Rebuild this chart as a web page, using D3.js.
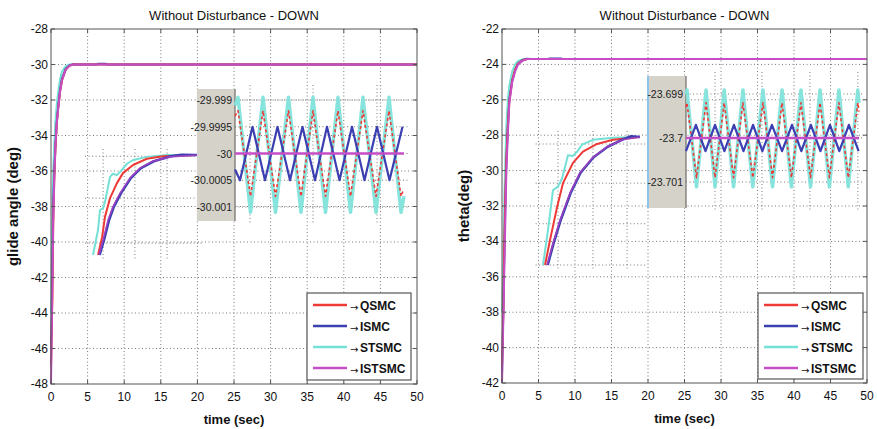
<!DOCTYPE html>
<html><head><meta charset="utf-8">
<script src="https://cdn.jsdelivr.net/npm/d3@7"></script>
<style>
body{margin:0;background:#fff;}
svg{display:block;font-family:"Liberation Sans",Arial,sans-serif;}
</style>
</head><body>
<svg id="c" width="877" height="429"></svg>
<script>
// ---------- shared ----------
const seriesNames = ["QSMC", "ISMC", "STSMC", "ISTSMC"];
const seriesColors = ["#ee3a36", "#3b42b0", "#74e0d6", "#c54ec6"];
const chartTitle = "Without Disturbance - DOWN";
const xLabel = "time (sec)";
const xTicks = [0, 5, 10, 15, 20, 25, 30, 35, 40, 45, 50];

// ---------- left panel: glide angle ----------
const leftYLabel = "glide angle (deg)";
const leftYTicks = [-48, -46, -44, -42, -40, -38, -36, -34, -32, -30, -28];
const leftTime   = [0, 0.1, 0.2, 0.3, 0.45, 0.6, 0.8, 1.0, 1.25, 1.5, 2.0, 2.5, 3.0, 3.5, 6.2, 6.4, 7.5, 7.7, 50];
const leftQSMC   = [-47, -45, -43, -39, -36.5, -34.8, -33.3, -32.4, -31.5, -30.9, -30.3, -30.08, -30.0, -30, -30, -30, -30, -30, -30];
const leftISMC   = [-46, -44, -41, -38, -36, -34.6, -33.2, -32.3, -31.4, -30.8, -30.25, -30.05, -29.98, -30, -30, -29.96, -29.96, -30, -30];
const leftSTSMC  = [-44, -41, -38, -36, -34.5, -33.2, -32.2, -31.5, -30.8, -30.4, -30.1, -30.0, -30, -30, -30, -30, -30, -30, -30];
const leftISTSMC = [-48, -45, -42, -39, -36.3, -34.6, -33.2, -32.4, -31.5, -30.9, -30.3, -30.08, -30.0, -30, -30, -30, -30, -30, -30];

// left transient zoom inset (time, value)
const leftZoomSTSMC  = [[0,-46],[0.16,-42],[0.22,-38.8],[0.32,-38.5],[0.38,-37.5],[0.54,-33.5],[0.63,-33.0],[0.76,-33.2],[0.86,-32.7],[1.08,-31.4],[1.27,-30.8],[1.71,-30.3],[2.35,-30.0],[3.3,-30.0]];
const leftZoomQSMC   = [[0.16,-46],[0.29,-43.1],[0.38,-39.9],[0.54,-36.9],[0.76,-34.5],[0.95,-32.9],[1.27,-31.6],[1.71,-30.6],[2.22,-30.2],[3.3,-30]];
const leftZoomISMC   = [[0.21,-46],[0.35,-43.6],[0.51,-40.4],[0.66,-38.3],[0.89,-36.1],[1.2,-33.7],[1.52,-32.1],[1.93,-31.0],[2.47,-30.2],[2.8,-29.95],[3.3,-30]];
const leftZoomISTSMC = [[0.19,-46],[0.32,-43.6],[0.48,-40.4],[0.63,-38.3],[0.86,-36.1],[1.17,-33.7],[1.49,-32.1],[1.9,-31.0],[2.44,-30.3],[3.3,-30]];
const leftZoomGridX = [0.32, 1.33, 2.35];
const leftZoomGridY = [-30.2, -36.9, -44.1];

// left oscillation inset (phase, value)
const leftOscTicks = [-30.001, -30.0005, -30, -29.9995, -29.999];
const leftOscTickLabels = ["-30.001", "-30.0005", "-30", "-29.9995", "-29.999"];
const leftOscSTSMC = [[0,-29.9991],[0.12,-29.99895],[0.62,-30.0011],[1.12,-29.99895],[1.62,-30.0011],[2.14,-29.99895],[2.64,-30.0011],[3.12,-29.99895],[3.62,-30.0011],[4.12,-29.99895],[4.62,-30.0011],[5.12,-29.99895],[5.64,-30.0011],[6.16,-29.99895],[6.64,-30.0011],[6.76,-30.0008]];
const leftOscQSMC  = [[0,-29.9993],[0.12,-29.9992],[0.62,-30.0008],[1.12,-29.9992],[1.62,-30.0008],[2.14,-29.9992],[2.64,-30.0008],[3.12,-29.9992],[3.62,-30.0008],[4.12,-29.9992],[4.62,-30.0008],[5.12,-29.9992],[5.64,-30.0008],[6.16,-29.9992],[6.64,-30.0008],[6.72,-30.0007]];
const leftOscISMC  = [[0,-30.0003],[0.2,-30.0005],[0.7,-29.9995],[1.2,-30.0005],[1.7,-29.9995],[2.2,-30.0005],[2.7,-29.9995],[3.2,-30.0005],[3.68,-29.9995],[4.18,-30.0005],[4.68,-29.9995],[5.18,-30.0005],[5.68,-29.9995],[6.18,-30.0005],[6.7,-29.9995]];
const leftOscISTSMC = [[0,-30],[6.76,-30]];
const leftOscGridX = [0.6, 3.12, 5.68];

// ---------- right panel: theta ----------
const rightYLabel = "theta(deg)";
const rightYTicks = [-42, -40, -38, -36, -34, -32, -30, -28, -26, -24, -22];
const rightTime   = [0, 0.1, 0.2, 0.3, 0.45, 0.6, 0.8, 1.0, 1.4, 1.8, 2.2, 2.8, 3.4, 4.0, 6.3, 6.5, 8.1, 8.3, 50];
const rightQSMC   = [-41, -39.5, -37.5, -34.5, -31.5, -29.3, -27.5, -26.1, -24.9, -24.3, -23.95, -23.78, -23.7, -23.7, -23.7, -23.7, -23.7, -23.7, -23.7];
const rightISMC   = [-41.5, -39.5, -37.5, -35, -32, -29.5, -27.5, -26.0, -24.9, -24.3, -23.95, -23.75, -23.68, -23.7, -23.7, -23.66, -23.66, -23.7, -23.7];
const rightSTSMC  = [-38, -36.5, -35, -32, -29.5, -27.5, -26, -25.2, -24.4, -24.0, -23.8, -23.72, -23.7, -23.7, -23.7, -23.7, -23.7, -23.7, -23.7];
const rightISTSMC = [-42, -40, -38, -36, -33, -30, -28, -26.2, -25, -24.4, -24.0, -23.8, -23.7, -23.7, -23.7, -23.7, -23.7, -23.7, -23.7];

const rightZoomSTSMC  = [[0,-42],[0.17,-37.0],[0.34,-31.3],[0.51,-30.8],[0.65,-29.6],[0.85,-26.3],[1.02,-26.4],[1.16,-25.8],[1.33,-24.8],[1.7,-24.1],[2.38,-23.8],[3.3,-23.7]];
const rightZoomQSMC   = [[0.07,-42],[0.24,-38.4],[0.48,-33.7],[0.68,-30.3],[1.02,-27.4],[1.36,-25.8],[1.84,-24.7],[2.38,-24.1],[3.3,-23.7]];
const rightZoomISMC   = [[0.16,-42],[0.36,-38.9],[0.6,-35.6],[0.94,-31.7],[1.28,-28.8],[1.72,-26.6],[2.2,-25.1],[2.74,-24.0],[3.0,-23.6],[3.3,-23.7]];
const rightZoomISTSMC = [[0.14,-42],[0.34,-38.9],[0.58,-35.6],[0.92,-31.7],[1.26,-28.8],[1.7,-26.6],[2.18,-25.1],[2.72,-24.1],[3.3,-23.7]];
const rightZoomGridX = [0.51, 1.7, 2.86];
const rightZoomGridY = [-24.7, -30.3, -36.1, -42.0];

const rightOscTicks = [-23.701, -23.7, -23.699];
const rightOscTickLabels = ["-23.701", "-23.7", "-23.699"];
const rightOscSTSMC = [[0,-23.6990],[0.05,-23.69891],[0.55,-23.70111],[1.05,-23.69891],[1.52,-23.70111],[2.0,-23.69891],[2.49,-23.70111],[2.98,-23.69891],[3.5,-23.70111],[4.03,-23.69891],[4.53,-23.70111],[5.03,-23.69891],[5.52,-23.70111],[6.02,-23.69891],[6.52,-23.70111],[7.02,-23.69891],[7.51,-23.70111],[8.01,-23.69891],[8.5,-23.70111],[9.0,-23.69891],[9.06,-23.6992]];
const rightOscQSMC  = [[0,-23.6993],[0.05,-23.6992],[0.55,-23.7009],[1.05,-23.6992],[1.52,-23.7009],[2.0,-23.6992],[2.49,-23.7009],[2.98,-23.6992],[3.5,-23.7009],[4.03,-23.6992],[4.53,-23.7009],[5.03,-23.6992],[5.52,-23.7009],[6.02,-23.6992],[6.52,-23.7009],[7.02,-23.6992],[7.51,-23.7009],[8.01,-23.6992],[8.5,-23.7009],[9.0,-23.6992],[9.06,-23.6994]];
const rightOscISMC  = [[0,-23.7003],[0.52,-23.6997],[1.02,-23.7003],[1.52,-23.6997],[2.01,-23.7003],[2.51,-23.6997],[3.01,-23.7003],[3.51,-23.6997],[4.0,-23.7003],[4.5,-23.6997],[5.03,-23.7003],[5.55,-23.6997],[6.04,-23.7003],[6.54,-23.6997],[7.04,-23.7003],[7.54,-23.6997],[8.03,-23.7003],[8.53,-23.6997],[9.04,-23.7003]];
const rightOscISTSMC = [[0,-23.7],[9.06,-23.7]];
const rightOscGridX = [1.52, 3.98, 6.49, 9.0];

// ---------- drawing ----------
const svg = d3.select("#c");
const GRID = "#7a7a7a";

function poly(g, pts, xs, ys, color, width, dash, opacity) {
  g.append("path").datum(pts)
    .attr("d", d3.line().x(d => xs(d[0])).y(d => ys(d[1])))
    .attr("fill", "none").attr("stroke", color).attr("stroke-width", width)
    .attr("stroke-linejoin", "round")
    .attr("stroke-dasharray", dash || null)
    .attr("opacity", opacity == null ? 1 : opacity);
}

function panel(cfg) {
  const g = svg.append("g");
  const x = d3.scaleLinear().domain([0, 50]).range([cfg.px0, cfg.px1]);
  const y = d3.scaleLinear().domain([cfg.yTicks[0], cfg.yTicks[cfg.yTicks.length - 1]]).range([cfg.py1, cfg.py0]);

  g.append("rect").attr("x", cfg.px0).attr("y", cfg.py0)
    .attr("width", cfg.px1 - cfg.px0).attr("height", cfg.py1 - cfg.py0).attr("fill", "#fff");

  // grid
  const gg = g.append("g").attr("stroke", GRID).attr("stroke-width", 1).attr("stroke-dasharray", "1,2.5");
  xTicks.slice(1, -1).forEach(t => gg.append("line").attr("x1", x(t)).attr("x2", x(t)).attr("y1", cfg.py0).attr("y2", cfg.py1));
  cfg.yTicks.slice(1, -1).forEach(t => gg.append("line").attr("x1", cfg.px0).attr("x2", cfg.px1).attr("y1", y(t)).attr("y2", y(t)));

  // main curves
  const order = [2, 1, 0, 3];
  order.forEach(i => {
    const pts = cfg.time.map((t, k) => [t, cfg.series[i][k]]);
    poly(g, pts, x, y, seriesColors[i], 2, null, 1);
  });

  // transient zoom inset
  const zx = d3.scaleLinear().domain([0, 3.3]).range(cfg.zoomX);
  const zy = d3.scaleLinear().domain(cfg.zoomYDom).range(cfg.zoomY);
  const zg = g.append("g").attr("stroke", GRID).attr("stroke-width", 1).attr("stroke-dasharray", "1,2.5");
  cfg.zoomGridY.forEach(v => zg.append("line").attr("x1", zx(-0.25)).attr("x2", zx(3.5)).attr("y1", zy(v)).attr("y2", zy(v)));
  cfg.zoomGridX.forEach(v => zg.append("line").attr("x1", zx(v)).attr("x2", zx(v)).attr("y1", cfg.zoomY[1] - 6).attr("y2", cfg.zoomY[0] + 4));
  poly(g, cfg.zoom[2], zx, zy, seriesColors[2], 2, null, 1);
  poly(g, cfg.zoom[0], zx, zy, seriesColors[0], 2, null, 1);
  poly(g, cfg.zoom[1], zx, zy, seriesColors[1], 2.6, null, 1);
  poly(g, cfg.zoom[3], zx, zy, "#a23fc4", 1.6, null, 0.9);

  // oscillation inset
  const ox = d3.scaleLinear().domain([0, cfg.oscXMax]).range(cfg.oscX);
  const oy = d3.scaleLinear().domain([cfg.oscTicks[0], cfg.oscTicks[cfg.oscTicks.length - 1]]).range(cfg.oscYRange);
  const og = g.append("g").attr("stroke", GRID).attr("stroke-width", 1).attr("stroke-dasharray", "1,2.5");
  cfg.oscTicks.forEach(v => og.append("line").attr("x1", cfg.oscX[0]).attr("x2", cfg.oscX[1] + 4).attr("y1", oy(v)).attr("y2", oy(v)));
  cfg.oscGridX.forEach(v => og.append("line").attr("x1", ox(v)).attr("x2", ox(v)).attr("y1", cfg.panelY[0] - 4).attr("y2", cfg.panelY[1] + 2));

  // gray label panel
  g.append("rect").attr("x", cfg.panelX[0]).attr("y", cfg.panelY[0])
    .attr("width", cfg.panelX[1] - cfg.panelX[0]).attr("height", cfg.panelY[1] - cfg.panelY[0])
    .attr("fill", "#d5d2ca");
  g.append("line").attr("x1", cfg.panelX[1]).attr("x2", cfg.panelX[1]).attr("y1", cfg.panelY[0]).attr("y2", cfg.panelY[1])
    .attr("stroke", "#6e6c68").attr("stroke-width", 1.2);
  if (cfg.blueEdge) {
    g.append("line").attr("x1", cfg.panelX[0]).attr("x2", cfg.panelX[0]).attr("y1", cfg.panelY[0]).attr("y2", cfg.panelY[1])
      .attr("stroke", "#8ec4ea").attr("stroke-width", 2);
  }
  cfg.oscTicks.forEach((v, i) => {
    g.append("text").attr("x", cfg.panelX[1] - 3).attr("y", oy(v) + 4)
      .attr("text-anchor", "end").attr("font-size", 10.5).attr("fill", "#222")
      .attr("font-family", "'Liberation Sans Narrow','Liberation Sans',Arial,sans-serif")
      .text(cfg.oscTickLabels[i]);
  });

  poly(g, cfg.osc[2], ox, oy, "#7fe3da", 3.5, null, 0.95);
  poly(g, cfg.osc[0], ox, oy, seriesColors[0], 1.6, "3,2.5", 1);
  poly(g, cfg.osc[1], ox, oy, "#3b3fb2", 2.2, null, 1);
  poly(g, cfg.osc[3], ox, oy, seriesColors[3], 2.5, null, 1);

  // axes box + ticks
  g.append("rect").attr("x", cfg.px0).attr("y", cfg.py0)
    .attr("width", cfg.px1 - cfg.px0).attr("height", cfg.py1 - cfg.py0)
    .attr("fill", "none").attr("stroke", "#555").attr("stroke-width", 1);
  const tg = g.append("g").attr("stroke", "#555").attr("stroke-width", 1);
  xTicks.forEach(t => {
    tg.append("line").attr("x1", x(t)).attr("x2", x(t)).attr("y1", cfg.py1).attr("y2", cfg.py1 - 4);
    tg.append("line").attr("x1", x(t)).attr("x2", x(t)).attr("y1", cfg.py0).attr("y2", cfg.py0 + 4);
  });
  cfg.yTicks.forEach(t => {
    tg.append("line").attr("x1", cfg.px0).attr("x2", cfg.px0 + 4).attr("y1", y(t)).attr("y2", y(t));
    tg.append("line").attr("x1", cfg.px1).attr("x2", cfg.px1 - 4).attr("y1", y(t)).attr("y2", y(t));
  });
  xTicks.forEach(t => g.append("text").attr("x", x(t)).attr("y", cfg.py1 + 17)
    .attr("text-anchor", "middle").attr("font-size", 12).attr("fill", "#111").text(t));
  cfg.yTicks.forEach(t => g.append("text").attr("x", cfg.px0 - 3).attr("y", y(t) + 4)
    .attr("text-anchor", "end").attr("font-size", 12).attr("fill", "#111").text(t));

  // title + labels
  g.append("text").attr("x", (cfg.px0 + cfg.px1) / 2).attr("y", cfg.py0 - 9)
    .attr("text-anchor", "middle").attr("font-size", 13).attr("fill", "#111").text(chartTitle);
  g.append("text").attr("x", (cfg.px0 + cfg.px1) / 2).attr("y", cfg.py1 + 40)
    .attr("text-anchor", "middle").attr("font-size", 13).attr("font-weight", "bold").attr("fill", "#111").text(xLabel);
  g.append("text").attr("transform", `translate(${cfg.yLabelX},${(cfg.py0 + cfg.py1) / 2}) rotate(-90)`)
    .attr("text-anchor", "middle").attr("font-size", 15).attr("font-weight", "bold").attr("fill", "#111").text(cfg.yLabel);

  // legend
  const L = cfg.legend;
  const lg = g.append("g");
  lg.append("rect").attr("x", L[0]).attr("y", L[1]).attr("width", L[2]).attr("height", L[3])
    .attr("fill", "#fff").attr("stroke", "#555").attr("stroke-width", 1.2);
  seriesNames.forEach((n, i) => {
    const yy = L[1] + 12 + i * 21;
    lg.append("line").attr("x1", L[0] + 6).attr("x2", L[0] + 40).attr("y1", yy).attr("y2", yy)
      .attr("stroke", seriesColors[i]).attr("stroke-width", 2.5);
    lg.append("text").attr("x", L[0] + 43).attr("y", yy + 5.5).attr("font-size", 10)
      .attr("font-family", "'DejaVu Sans',sans-serif")
      .attr("fill", "#111").text("\u2192");
    lg.append("text").attr("x", L[0] + 53).attr("y", yy + 5).attr("font-size", 12).attr("font-weight", "bold")
      .attr("fill", "#111").text(n);
  });
}

panel({
  px0: 51, px1: 417, py0: 29, py1: 384, yTicks: leftYTicks, yLabel: leftYLabel, yLabelX: 18,
  time: leftTime, series: [leftQSMC, leftISMC, leftSTSMC, leftISTSMC],
  zoomX: [93, 197], zoomYDom: [-46, -30], zoomY: [255, 155],
  zoom: [leftZoomQSMC, leftZoomISMC, leftZoomSTSMC, leftZoomISTSMC],
  zoomGridX: leftZoomGridX, zoomGridY: leftZoomGridY,
  oscX: [235, 404], oscXMax: 6.76, oscYRange: [207, 100], oscTicks: leftOscTicks, oscTickLabels: leftOscTickLabels,
  osc: [leftOscQSMC, leftOscISMC, leftOscSTSMC, leftOscISTSMC], oscGridX: leftOscGridX,
  panelX: [197, 235], panelY: [89, 221], blueEdge: false,
  legend: [307, 293, 104, 87]
});

panel({
  px0: 502, px1: 867, py0: 29, py1: 383, yTicks: rightYTicks, yLabel: rightYLabel, yLabelX: 469,
  time: rightTime, series: [rightQSMC, rightISMC, rightSTSMC, rightISTSMC],
  zoomX: [543, 640], zoomYDom: [-42, -23.7], zoomY: [265, 137],
  zoom: [rightZoomQSMC, rightZoomISMC, rightZoomSTSMC, rightZoomISTSMC],
  zoomGridX: rightZoomGridX, zoomGridY: rightZoomGridY,
  oscX: [686, 859], oscXMax: 9.06, oscYRange: [182, 94], oscTicks: rightOscTicks, oscTickLabels: rightOscTickLabels,
  osc: [rightOscQSMC, rightOscISMC, rightOscSTSMC, rightOscISTSMC], oscGridX: rightOscGridX,
  panelX: [648, 686], panelY: [76, 208], blueEdge: true,
  legend: [758, 293, 105, 86]
});
</script>
</body></html>
